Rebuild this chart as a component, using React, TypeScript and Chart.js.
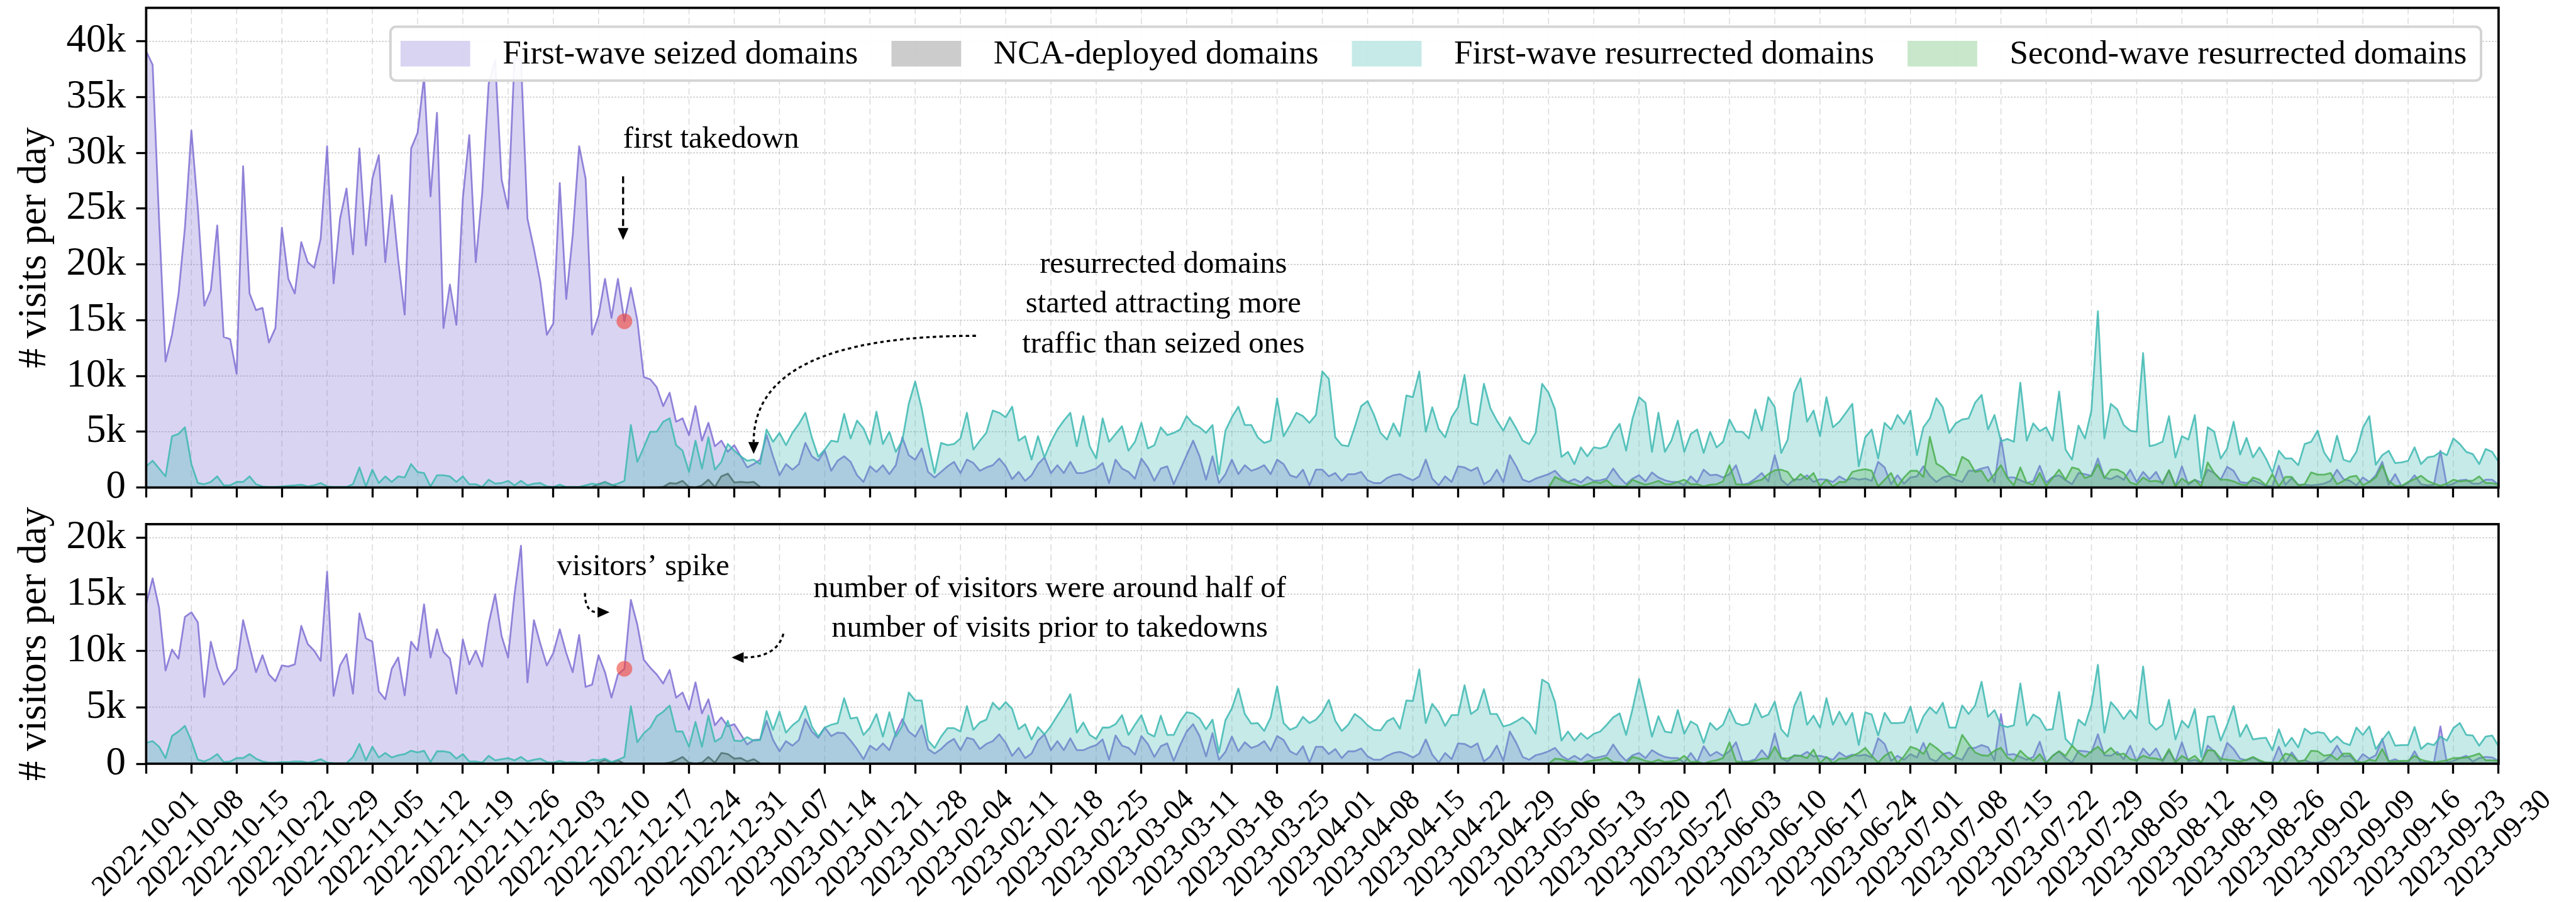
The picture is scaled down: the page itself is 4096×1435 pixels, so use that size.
import React, { useEffect, useRef } from 'react';
import { Chart, registerables } from 'chart.js';

Chart.register(...registerables);

// ---------- page / plot geometry ----------
const PAGE_W = 4096;
const PAGE_H = 1435;
const PLOT_LEFT = 232.4;
const PLOT_RIGHT = 3972.9;
const Y_AXIS_W = 200;
const X_AXIS_H = 20;
const TICK_LEN = 15.8;
const TICK_W = 3.3;
const SPINE_W = 3.7;
const LINE_W = 2.8;
const FONT = "'Liberation Serif', 'Times New Roman', Times, serif";

// ---------- x axis: one point per day from 2022-10-01 to 2023-09-30 ----------
const LAST_DAY = 364;
const TICK_EVERY = 7;
const DATE_TICKS = [
  '2022-10-01', '2022-10-08', '2022-10-15', '2022-10-22', '2022-10-29',
  '2022-11-05', '2022-11-12', '2022-11-19', '2022-11-26',
  '2022-12-03', '2022-12-10', '2022-12-17', '2022-12-24', '2022-12-31',
  '2023-01-07', '2023-01-14', '2023-01-21', '2023-01-28',
  '2023-02-04', '2023-02-11', '2023-02-18', '2023-02-25',
  '2023-03-04', '2023-03-11', '2023-03-18', '2023-03-25',
  '2023-04-01', '2023-04-08', '2023-04-15', '2023-04-22', '2023-04-29',
  '2023-05-06', '2023-05-13', '2023-05-20', '2023-05-27',
  '2023-06-03', '2023-06-10', '2023-06-17', '2023-06-24',
  '2023-07-01', '2023-07-08', '2023-07-15', '2023-07-22', '2023-07-29',
  '2023-08-05', '2023-08-12', '2023-08-19', '2023-08-26',
  '2023-09-02', '2023-09-09', '2023-09-16', '2023-09-23', '2023-09-30',
];

// ---------- visits per day (thousands), 10 days per row ----------
const SEIZED_VISITS = [
  39.1, 37.9, 24.0, 11.3, 13.7, 17.3, 23.3, 32.0, 25.0, 16.3,
  17.7, 23.5, 13.5, 13.3, 10.2, 28.8, 17.4, 15.9, 16.1, 13.0,
  14.3, 23.3, 18.7, 17.4, 22.0, 20.2, 19.7, 22.3, 30.6, 18.3,
  24.1, 26.8, 20.9, 30.4, 21.7, 27.7, 29.8, 20.2, 26.2, 20.4,
  15.5, 30.4, 31.8, 36.8, 26.1, 33.6, 14.3, 18.2, 14.6, 25.9,
  31.6, 20.2, 26.4, 36.2, 38.3, 27.6, 25.0, 38.5, 38.4, 24.1,
  21.4, 18.4, 13.7, 14.7, 27.3, 16.9, 22.6, 30.6, 27.7, 13.7,
  15.4, 18.7, 15.2, 18.7, 14.9, 17.9, 15.0, 9.9, 9.7, 9.0,
  7.3, 8.5, 5.9, 6.2, 4.7, 7.3, 4.2, 5.8, 3.7, 4.2,
  3.2, 3.8, 2.8, 1.8, 2.1, 2.5, 4.7, 2.8, 1.1, 2.1,
  1.6, 2.1, 4.0, 2.8, 2.4, 3.3, 1.5, 2.4, 2.8, 2.3,
  1.1, 0.5, 1.9, 1.4, 2.0, 1.2, 2.0, 4.5, 2.9, 2.5,
  3.5, 1.4, 0.9, 1.4, 1.9, 2.3, 1.3, 2.5, 2.2, 1.5,
  1.8, 2.0, 2.6, 1.9, 0.75, 1.4, 0.6, 1.1, 2.1, 2.7,
  1.3, 2.0, 1.3, 2.3, 1.3, 1.3, 1.5, 1.7, 2.2, 0.4,
  2.5, 1.7, 1.4, 0.8, 2.6, 1.8, 0.6, 1.7, 1.9, 0.3,
  1.6, 2.9, 4.2, 2.8, 0.7, 2.8, 0.4, 1.2, 2.5, 1.2,
  2.0, 1.5, 1.7, 2.0, 1.2, 2.5, 2.1, 1.1, 0.9, 1.6,
  0.2, 1.6, 1.6, 1.0, 1.3, 0.6, 1.2, 1.2, 1.4, 0.65,
  0.4, 0.4, 0.85, 1.1, 1.2, 0.9, 0.65, 1.0, 2.5, 0.8,
  0.2, 1.0, 0.5, 1.9, 1.8, 1.5, 1.8, 0.3, 0.65, 1.6,
  0.5, 2.9, 1.9, 0.7, 0.5, 0.8, 1.0, 1.2, 1.5, 0.85,
  0.5, 0.75, 0.45, 0.95, 0.6, 0.65, 0.8, 1.7, 0.9, 0.3,
  0.8, 1.1, 0.55, 1.35, 0.9, 0.65, 0.5, 0.5, 0.2, 1.0,
  0.45, 1.6, 1.1, 1.15, 0.9, 1.2, 2.0, 0.25, 0.4, 0.8,
  1.3, 0.55, 2.9, 0.7, 0.2, 0.75, 0.7, 1.1, 0.5, 0.75,
  0.7, 0.5, 1.0, 0.65, 0.85, 0.7, 0.8, 0.6, 2.3, 1.8,
  0.3, 1.1, 0.35, 0.9, 1.0, 1.9, 1.05, 0.5, 0.9, 1.05,
  0.7, 0.5, 1.5, 1.5, 1.7, 1.85, 0.45, 4.45, 0.9, 0.9,
  0.65, 0.4, 0.6, 1.95, 0.45, 0.95, 1.1, 0.65, 0.3, 1.3,
  1.2, 1.05, 2.6, 0.9, 0.75, 1.05, 0.7, 1.6, 0.5, 1.4,
  0.75, 1.4, 0.3, 1.55, 0.15, 1.9, 0.25, 0.7, 0.45, 1.6,
  1.3, 0.7, 1.85, 1.5, 0.5, 0.4, 0.65, 0.4, 0.15, 0.1,
  1.95, 0.25, 0.85, 0.25, 0.25, 0.2, 0.25, 0.35, 0.6, 1.6,
  0.75, 0.6, 0.2, 0.9, 0.5, 1.1, 2.3, 0.25, 1.2, 0.1,
  0.4, 1.1, 0.3, 0.2, 0.25, 3.3, 0.15, 0.35, 0.65, 0.7,
  0.35, 0.35, 0.7, 0.7, 0.25,
];

const RES1_VISITS = [
  1.9, 2.4, 1.7, 1.0, 4.6, 4.8, 5.4, 2.1, 0.4, 0.3,
  0.5, 1.0, 0.2, 0.2, 0.5, 0.5, 1.0, 0.3, 0.1, 0.05,
  0.05, 0.1, 0.15, 0.2, 0.25, 0.1, 0.2, 0.4, 0.1, 0.05,
  0.05, 0.05, 0.3, 1.8, 0.1, 1.6, 0.4, 1.0, 0.5, 1.0,
  0.9, 2.1, 1.4, 1.3, 0.1, 1.1, 1.1, 1.0, 0.5, 1.0,
  0.3, 0.3, 0.05, 0.7, 0.35, 0.4, 0.6, 0.2, 0.6, 0.2,
  0.35, 0.4, 0.1, 0.05, 0.25, 0.05, 0.05, 0.05, 0.2, 0.35,
  0.25, 0.5, 0.2, 0.35, 0.6, 5.6, 2.3, 3.6, 5.0, 5.0,
  5.9, 6.2, 3.8, 3.3, 1.4, 4.2, 1.7, 4.5, 1.6, 2.3,
  3.9, 3.3, 2.8, 2.4, 2.5, 2.1, 5.2, 4.1, 4.9, 3.8,
  4.9, 5.7, 6.7, 4.5, 2.75, 3.4, 4.2, 4.1, 6.6, 4.4,
  6.0, 5.3, 3.9, 6.8, 3.9, 5.0, 3.2, 4.2, 7.5, 9.5,
  7.1, 4.0, 1.3, 4.0, 3.8, 3.9, 4.4, 6.7, 3.4, 4.2,
  4.9, 6.9, 6.7, 6.3, 7.25, 4.2, 4.6, 2.5, 4.6, 2.7,
  4.1, 5.2, 6.0, 6.7, 3.7, 6.4, 3.7, 2.6, 6.2, 4.1,
  4.8, 5.5, 3.3, 4.1, 5.8, 3.5, 3.8, 5.4, 4.7, 4.9,
  5.2, 6.4, 5.7, 5.4, 4.9, 5.6, 1.2, 5.1, 6.3, 7.25,
  5.6, 5.6, 4.5, 4.0, 4.2, 8.0, 4.6, 5.6, 6.7, 6.4,
  5.8, 6.5, 10.4, 9.75, 4.5, 3.8, 3.7, 5.4, 7.3, 7.75,
  6.5, 4.9, 4.3, 5.75, 4.6, 8.25, 8.1, 10.4, 5.0, 7.2,
  5.25, 4.5, 6.3, 7.2, 10.1, 5.8, 5.6, 9.3, 7.1, 6.0,
  5.1, 6.3, 5.3, 4.2, 3.9, 4.9, 9.3, 8.5, 7.0, 2.75,
  3.2, 2.1, 3.6, 2.8, 3.6, 3.5, 3.7, 4.9, 5.7, 3.3,
  6.2, 8.1, 7.6, 3.2, 6.7, 3.2, 4.2, 6.0, 3.2, 4.8,
  5.2, 3.1, 5.0, 3.6, 4.1, 6.1, 5.0, 5.0, 4.4, 7.0,
  5.1, 8.1, 7.2, 3.1, 4.3, 8.5, 9.8, 5.9, 6.9, 4.6,
  8.1, 5.4, 5.9, 6.7, 7.5, 1.9, 4.5, 5.2, 2.6, 5.8,
  5.2, 6.5, 5.7, 6.9, 2.9, 5.4, 6.2, 8.0, 7.2, 4.9,
  5.75, 6.1, 6.2, 7.6, 8.3, 5.2, 6.5, 4.15, 4.35, 4.1,
  9.4, 4.2, 5.75, 5.05, 5.4, 4.2, 8.6, 3.4, 2.5, 5.55,
  4.4, 6.9, 15.8, 4.4, 7.5, 7.0, 5.6, 5.1, 5.0, 12.05,
  3.7, 3.85, 4.1, 6.4, 2.7, 4.6, 4.3, 6.5, 0.8, 5.4,
  5.0, 2.6, 3.5, 5.9, 2.95, 4.45, 2.7, 3.6, 2.6, 1.35,
  3.3, 2.6, 2.6, 2.0, 3.9, 4.1, 5.1, 3.15, 2.3, 4.65,
  2.5, 2.3, 3.2, 5.35, 6.4, 2.05, 2.9, 3.3, 2.2, 2.25,
  2.4, 3.6, 2.1, 2.7, 2.8, 3.2, 2.9, 4.4, 3.9, 3.2,
  3.0, 2.1, 3.45, 3.2, 2.3,
];

// NCA-deployed domains only carry traffic for a few weeks (from day 69)
const NCA_START = 69;
const NCA_VISITS = [
  0.05, 0.3, 0.5, 0.25, 0.05, 0, 0, 0, 0, 0,
  0, 0.05, 0.4, 0.35, 0.6, 0.05, 0, 0.2, 0.7, 0.05,
  1.0, 1.25, 0.45, 0.5, 0.45, 0.5, 0.05,
];

// second-wave resurrected domains appear from 2023-05-06 (day 217)
const RES2_START = 217;
const RES2_VISITS = [
  0, 0.95, 0.65, 0.45, 0.3, 0.1, 0.3, 0.5, 0.4, 0.65,
  0.15, 0.1, 0.1, 0.7, 0.45, 0.25, 0.4, 0.6, 0.3, 0.3,
  0.5, 0.7, 0.3, 0.3, 0.1, 0.25, 0.3, 0.55, 2.0, 0.3,
  0.25, 0.25, 0.55, 0.7, 1.2, 1.55, 1.6, 1.4, 0.6, 1.2,
  0.75, 1.3, 0.1, 0.7, 0.1, 0.5, 0.5, 1.4, 1.55, 1.65,
  1.5, 0.1, 0.7, 1.3, 0.1, 0.9, 1.5, 1.5, 0.95, 4.55,
  2.15, 1.8, 1.2, 1.1, 2.75, 2.4, 1.4, 1.5, 0.55, 1.2,
  2.0, 0.85, 0.2, 1.8, 0.4, 0.25, 1.3, 0.15, 0.85, 1.6,
  0.7, 1.8, 1.65, 0.85, 1.05, 2.1, 0.85, 1.6, 1.6, 1.3,
  0.45, 0.25, 0.9, 0.55, 0.6, 0.45, 1.55, 0.1, 0.8, 0.4,
  0.7, 0.1, 2.25, 1.3, 0.7, 0.7, 0.55, 0.3, 0.2, 0.9,
  0.7, 0.2, 1.2, 0.1, 0.95, 0.95, 0.2, 0.3, 1.35, 1.15,
  1.15, 1.3, 0.3, 0.6, 0.95, 1.05, 0.2, 0.5, 0.9, 2.0,
  0.6, 0.15, 0.15, 0.5, 0.75, 1.05, 0.6, 0.35, 0.15, 0.35,
  0.7, 0.55, 0.6, 0.6, 1.0, 0.4, 0.4, 0.25,
];

// ---------- visitors per day (thousands) ----------
const SEIZED_VISITORS = [
  14.1, 16.4, 13.8, 8.25, 10.1, 9.3, 13.0, 13.4, 12.5, 5.9,
  10.8, 8.5, 7.0, 7.7, 8.4, 12.7, 10.4, 8.1, 9.6, 7.9,
  7.3, 8.7, 8.6, 8.8, 12.2, 10.6, 10.0, 9.1, 17.0, 6.0,
  8.7, 9.7, 6.2, 13.3, 11.1, 10.8, 6.4, 5.7, 8.4, 9.4,
  6.05, 10.8, 10.0, 14.1, 9.4, 11.9, 9.9, 9.3, 6.2, 11.0,
  8.8, 10.0, 8.6, 12.4, 15.0, 11.3, 9.4, 15.0, 19.3, 7.2,
  12.7, 10.6, 8.7, 9.8, 11.9, 9.8, 8.1, 11.4, 6.8, 7.0,
  9.6, 8.1, 5.85, 7.9, 8.4, 14.5, 12.3, 9.2, 8.5, 7.9,
  7.1, 8.3, 5.85, 6.3, 4.8, 7.2, 4.45, 5.7, 3.4, 4.1,
  3.3, 3.5, 2.6, 1.7, 2.1, 2.15, 3.8, 2.1, 1.1, 2.0,
  1.6, 2.1, 3.95, 2.85, 2.3, 3.2, 2.45, 2.75, 2.7, 2.05,
  1.3, 0.4, 1.6, 1.2, 1.8, 1.2, 2.7, 3.95, 2.85, 2.4,
  3.4, 1.3, 0.9, 1.3, 1.85, 2.2, 1.2, 2.3, 2.15, 1.3,
  1.75, 2.0, 2.6, 1.85, 0.7, 1.4, 0.5, 0.9, 2.05, 2.6,
  1.2, 2.0, 1.2, 2.25, 1.2, 1.2, 1.45, 1.65, 2.15, 0.35,
  2.5, 1.6, 1.4, 0.8, 2.45, 1.75, 0.6, 1.55, 1.8, 0.25,
  1.65, 2.85, 3.5, 2.45, 0.65, 2.7, 0.35, 1.05, 2.4, 1.1,
  1.9, 1.4, 1.6, 2.0, 1.15, 2.45, 2.1, 1.1, 0.8, 1.55,
  0.1, 1.5, 1.5, 0.85, 1.3, 0.5, 1.1, 1.1, 1.35, 0.65,
  0.35, 0.35, 0.7, 0.95, 1.05, 0.85, 0.55, 0.9, 2.15, 0.8,
  0.1, 0.95, 0.4, 1.8, 1.75, 1.45, 1.8, 0.2, 0.65, 1.6,
  0.25, 2.85, 1.85, 0.6, 0.35, 0.75, 0.9, 1.1, 1.4, 0.7,
  0.35, 0.7, 0.35, 0.85, 0.5, 0.6, 0.75, 1.7, 0.85, 0.25,
  0.75, 0.95, 0.5, 1.2, 0.85, 0.6, 0.5, 0.5, 0.1, 0.95,
  0.15, 1.55, 0.7, 1.05, 0.7, 1.1, 1.9, 0.2, 0.2, 0.4,
  1.2, 0.5, 2.7, 0.5, 0.2, 0.75, 0.7, 1.05, 0.65, 0.7,
  0.55, 0.35, 1.0, 0.6, 0.8, 0.7, 0.8, 0.55, 2.25, 1.75,
  0.25, 0.7, 0.35, 0.85, 0.55, 1.85, 0.45, 0.2, 0.85, 1.0,
  0.55, 0.35, 1.4, 1.4, 1.65, 1.45, 0.3, 4.4, 0.8, 0.85,
  0.6, 0.35, 0.6, 1.95, 0.1, 0.7, 1.1, 0.5, 0.1, 1.15,
  1.1, 1.0, 2.6, 0.75, 0.7, 1.05, 0.4, 1.6, 0.2, 1.35,
  0.7, 1.35, 0.2, 1.15, 0.2, 1.9, 0.2, 0.35, 0.1, 1.6,
  1.1, 0.2, 1.85, 1.3, 0.45, 0.3, 0.55, 0.2, 0.1, 0.1,
  1.5, 0.1, 1.0, 0.2, 0.3, 0.1, 0.1, 0.25, 0.7, 1.6,
  0.65, 0.7, 0.1, 0.85, 0.45, 0.75, 2.2, 0.2, 0.4, 0.1,
  0.1, 1.1, 0.1, 0.2, 0.1, 3.3, 0.1, 0.25, 0.5, 0.7,
  0.2, 0.5, 0.6, 0.55, 0.25,
];

const RES1_VISITORS = [
  1.85, 2.0, 1.5, 0.5, 2.45, 2.85, 3.35, 2.0, 0.35, 0.2,
  0.45, 0.85, 0.15, 0.2, 0.5, 0.5, 0.85, 0.45, 0.2, 0.1,
  0.1, 0.15, 0.15, 0.2, 0.2, 0.1, 0.2, 0.4, 0.1, 0.05,
  0.05, 0.05, 0.6, 1.75, 0.3, 1.5, 0.55, 0.95, 0.55, 0.75,
  0.85, 1.15, 1.0, 1.15, 0.15, 1.1, 1.1, 1.0, 0.45, 0.85,
  0.2, 0.2, 0.1, 0.7, 0.3, 0.4, 0.5, 0.3, 0.6, 0.2,
  0.35, 0.45, 0.15, 0.1, 0.25, 0.1, 0.15, 0.1, 0.1, 0.35,
  0.3, 0.45, 0.15, 0.35, 0.6, 5.1, 1.9, 2.7, 3.2, 4.2,
  4.6, 5.15, 2.85, 2.85, 1.5, 3.7, 1.5, 4.25, 1.95, 2.3,
  3.8, 2.05, 2.0, 2.35, 2.05, 2.1, 4.65, 3.0, 4.6, 2.75,
  3.4, 3.85, 5.1, 3.3, 2.4, 3.2, 3.45, 3.6, 5.8, 4.0,
  4.1, 2.55, 3.2, 4.4, 2.4, 4.55, 2.4, 3.35, 6.3, 5.6,
  5.6, 2.05, 1.4, 2.4, 3.15, 3.15, 2.85, 5.1, 3.0, 3.65,
  3.9, 5.4, 4.8, 5.45, 4.85, 3.05, 3.5, 2.15, 3.25, 2.6,
  3.35, 4.25, 5.15, 6.15, 2.75, 3.65, 2.55, 2.2, 3.2, 3.2,
  3.5, 4.3, 2.55, 3.45, 4.3, 2.7, 2.4, 4.25, 2.55, 2.55,
  3.75, 4.55, 4.45, 4.0, 3.05, 3.9, 1.0, 3.85, 4.9, 6.65,
  4.4, 3.55, 3.6, 2.9, 4.1, 6.85, 3.6, 3.0, 3.25, 4.15,
  3.6, 3.9, 4.55, 5.65, 3.8, 2.9, 3.45, 4.4, 4.0, 3.4,
  3.0, 2.95, 3.75, 4.05, 3.1, 5.6, 5.55, 8.35, 3.6, 5.3,
  4.55, 3.35, 4.3, 4.3, 6.95, 4.4, 4.8, 6.6, 4.4, 4.4,
  3.3, 3.45, 3.75, 4.1, 3.6, 2.65, 7.45, 7.1, 5.45, 2.05,
  2.85, 2.05, 2.7, 2.2, 2.65, 2.85, 3.45, 4.1, 4.45, 2.55,
  4.85, 7.5, 5.0, 2.4, 4.2, 2.85, 2.75, 4.75, 2.65, 3.75,
  3.4, 1.85, 3.6, 3.0, 3.45, 4.85, 3.6, 3.4, 3.55, 5.3,
  4.1, 4.35, 5.5, 3.05, 2.4, 5.1, 6.35, 3.45, 4.25, 3.2,
  5.8, 3.45, 4.6, 3.45, 4.5, 1.65, 4.55, 4.35, 2.5, 4.5,
  3.6, 3.6, 3.65, 5.05, 2.75, 4.2, 5.0, 4.45, 5.4, 3.2,
  3.2, 5.15, 4.4, 5.15, 7.25, 4.15, 4.75, 3.4, 3.25, 3.4,
  7.1, 3.4, 4.35, 4.0, 3.0, 3.05, 6.35, 2.2, 1.6, 3.9,
  3.4, 5.2, 8.75, 2.75, 5.45, 4.8, 3.95, 4.75, 4.0, 8.6,
  3.6, 3.0, 3.45, 5.65, 2.15, 3.8, 3.2, 4.85, 0.6, 4.15,
  4.2, 2.05, 3.45, 5.1, 2.4, 3.45, 2.15, 2.25, 2.3, 1.2,
  3.05, 1.55, 2.3, 1.45, 3.1, 2.65, 2.8, 2.7, 1.9, 2.4,
  1.85, 1.65, 3.2, 2.55, 3.3, 1.3, 2.1, 2.85, 1.6, 1.65,
  1.65, 3.25, 1.3, 1.8, 1.65, 2.4, 2.05, 3.15, 3.6, 2.55,
  2.5, 1.6, 2.4, 2.5, 1.55,
];

const NCA_VISITORS = [
  0, 0.1, 0.35, 0.1, 0.3, 0, 0, 0, 0, 0,
  0, 0, 0.1, 0.3, 0.6, 0.1, 0, 0.1, 0.6, 0.1,
  0.95, 0.85, 0.45, 0.5, 0.2, 0.4, 0.05,
];

const RES2_VISITORS = [
  0, 0.45, 0.4, 0.2, 0.2, 0, 0.2, 0.3, 0.35, 0.55,
  0.15, 0.15, 0, 0.6, 0.45, 0.25, 0.15, 0.35, 0.15, 0.2,
  0.3, 0.7, 0.15, 0.2, 0, 0.2, 0.3, 0.5, 1.9, 0.2,
  0.15, 0.15, 0.25, 0.45, 0.45, 1.5, 0.5, 0.45, 0.7, 0.7,
  0.5, 1.25, 0.05, 0.6, 0.05, 0.45, 0.45, 0.7, 0.95, 1.4,
  0.7, 0.1, 0.7, 1.05, 0.05, 0.65, 1.5, 1.3, 0.85, 1.8,
  1.4, 0.9, 0.4, 0.8, 2.55, 1.75, 1.0, 0.75, 0.7, 1.15,
  1.4, 0.55, 0.25, 1.15, 0.6, 0.25, 0.85, 0.05, 0.7, 1.1,
  0.7, 1.6, 1.0, 0.6, 1.1, 1.5, 0.9, 1.4, 0.8, 0.9,
  0.4, 0.3, 0.7, 0.5, 0.45, 0.3, 1.3, 0.1, 0.7, 0.35,
  0.7, 0.1, 1.2, 1.15, 0.45, 0.35, 0.3, 0.2, 0.35, 0.6,
  0.3, 0.1, 0.1, 0.1, 0.9, 0.75, 0.2, 0.3, 1.15, 1.1,
  0.7, 0.8, 0.35, 0.9, 0.9, 0.2, 0.1, 0.35, 0.25, 1.3,
  0.2, 0.2, 0.25, 0.25, 0.7, 0.35, 0.2, 0.1, 0.2, 0.3,
  0.5, 0.5, 0.55, 0.7, 0.9, 0.3, 0.3, 0.25,
];

// first takedown (2022-12-14)
const TAKEDOWN_DAY = 74;

// ---------- series styling ----------
const SERIES = {
  seized: { label: 'First-wave seized domains', rgb: '128,112,212' },
  nca: { label: 'NCA-deployed domains', rgb: '85,85,85' },
  res1: { label: 'First-wave resurrected domains', rgb: '62,185,178' },
  res2: { label: 'Second-wave resurrected domains', rgb: '76,175,80' },
};

type Note = { lines: string[]; day: number; value: number; align: CanvasTextAlign };
type Arrow = { from: [number, number]; via?: [number, number]; to: [number, number]; dash: number[] };

type Panel = {
  top: number;
  bottom: number;
  yMax: number;
  yTicks: number[];
  title: string;
  seized: number[];
  nca: number[];
  res1: number[];
  res2: number[];
  notes: Note[];
  arrows: Arrow[];
  legend: boolean;
  dateLabels: boolean;
};

const TOP_PANEL: Panel = {
  top: 12.5,
  bottom: 775.6,
  yMax: 43.0,
  yTicks: [0, 5, 10, 15, 20, 25, 30, 35, 40],
  title: '# visits per day',
  seized: SEIZED_VISITS,
  nca: NCA_VISITS,
  res1: RES1_VISITS,
  res2: RES2_VISITS,
  notes: [
    { lines: ['first takedown'], day: 73.8, value: 31.2, align: 'left' },
    {
      lines: ['resurrected domains', 'started attracting more', 'traffic than seized ones'],
      day: 157.4,
      value: 16.4,
      align: 'center',
    },
  ],
  arrows: [
    { from: [73.8, 27.9], to: [73.8, 22.2], dash: [11, 6] },
    { from: [128.4, 13.6], via: [94.0, 13.6], to: [94.0, 3.0], dash: [5.5, 5] },
  ],
  legend: true,
  dateLabels: false,
};

const BOTTOM_PANEL: Panel = {
  top: 833.9,
  bottom: 1215.0,
  yMax: 21.2,
  yTicks: [0, 5, 10, 15, 20],
  title: '# visitors per day',
  seized: SEIZED_VISITORS,
  nca: NCA_VISITORS,
  res1: RES1_VISITORS,
  res2: RES2_VISITORS,
  notes: [
    { lines: ['visitors\u2019 spike'], day: 76.9, value: 17.4, align: 'center' },
    {
      lines: ['number of visitors were around half of', 'number of visits prior to takedowns'],
      day: 139.8,
      value: 13.7,
      align: 'center',
    },
  ],
  arrows: [
    { from: [67.9, 15.1], via: [67.9, 13.4], to: [71.7, 13.4], dash: [5.5, 5] },
    { from: [98.6, 11.5], via: [97.6, 9.4], to: [90.6, 9.4], dash: [5.5, 5] },
  ],
  legend: false,
  dateLabels: true,
};

function areaDataset(key: keyof typeof SERIES, values: number[], start: number, order: number) {
  const s = SERIES[key];
  return {
    type: 'line' as const,
    label: s.label,
    data: values.map((v, i) => ({ x: start + i, y: v })),
    borderColor: `rgba(${s.rgb},0.85)`,
    backgroundColor: `rgba(${s.rgb},0.3)`,
    borderWidth: LINE_W,
    borderJoinStyle: 'round' as const,
    fill: 'origin',
    pointRadius: 0,
    tension: 0,
    order,
  };
}

function drawArrow(ctx: CanvasRenderingContext2D, xs: any, ys: any, a: Arrow) {
  const px = (p: [number, number]) => [xs.getPixelForValue(p[0]), ys.getPixelForValue(p[1])];
  const p0 = px(a.from);
  const p2 = px(a.to);
  const c = a.via ? px(a.via) : null;
  const ref = c || p0;
  const dx = p2[0] - ref[0];
  const dy = p2[1] - ref[1];
  const len = Math.hypot(dx, dy) || 1;
  const ux = dx / len;
  const uy = dy / len;
  const headL = 19;
  const headW = 17;
  const bx = p2[0] - ux * headL;
  const by = p2[1] - uy * headL;
  ctx.save();
  ctx.strokeStyle = '#000';
  ctx.fillStyle = '#000';
  ctx.lineWidth = 3.3;
  ctx.setLineDash(a.dash);
  ctx.beginPath();
  ctx.moveTo(p0[0], p0[1]);
  if (c) ctx.quadraticCurveTo(c[0], c[1], bx, by);
  else ctx.lineTo(bx, by);
  ctx.stroke();
  ctx.setLineDash([]);
  ctx.beginPath();
  ctx.moveTo(p2[0], p2[1]);
  ctx.lineTo(bx - (uy * headW) / 2, by + (ux * headW) / 2);
  ctx.lineTo(bx + (uy * headW) / 2, by - (ux * headW) / 2);
  ctx.closePath();
  ctx.fill();
  ctx.restore();
}

function drawLegend(ctx: CanvasRenderingContext2D, datasets: any[]) {
  const items = datasets.filter((d) => d.label);
  const fontSize = 53;
  const swW = 110.8;
  const swH = 40.8;
  const swGap = 51.6;
  const colGap = 53;
  const padL = 16;
  const padR = 22.5;
  const boxRight = 3945;
  const boxTop = 42.5;
  const boxBottom = 128.3;
  ctx.save();
  ctx.font = `${fontSize}px ${FONT}`;
  const widths = items.map((d) => ctx.measureText(d.label).width);
  const inner = widths.reduce((s, w) => s + swW + swGap + w, 0) + colGap * (items.length - 1);
  const boxLeft = boxRight - padR - inner - padL;
  const midY = (boxTop + boxBottom) / 2;
  ctx.beginPath();
  ctx.roundRect(boxLeft, boxTop, boxRight - boxLeft, boxBottom - boxTop, 9);
  ctx.fillStyle = 'rgba(255,255,255,0.92)';
  ctx.fill();
  ctx.lineWidth = 4;
  ctx.strokeStyle = '#d4d4d4';
  ctx.stroke();
  let x = boxLeft + padL;
  items.forEach((d, i) => {
    ctx.fillStyle = d.backgroundColor;
    ctx.fillRect(x, midY - swH / 2, swW, swH);
    x += swW + swGap;
    ctx.fillStyle = '#000';
    ctx.textAlign = 'left';
    ctx.textBaseline = 'middle';
    ctx.fillText(d.label, x, midY + 2);
    x += widths[i] + colGap;
  });
  ctx.restore();
}

function buildConfig(p: Panel): any {
  const zeroPad = (s: any) => {
    s.paddingLeft = 0;
    s.paddingRight = 0;
    s.paddingTop = 0;
    s.paddingBottom = 0;
  };
  const decor = {
    id: 'panelDecor',
    beforeDatasetsDraw(chart: any) {
      const { ctx, chartArea: a, scales } = chart;
      const xs = scales.x;
      const ys = scales.y;
      ctx.save();
      ctx.beginPath();
      ctx.rect(a.left, a.top, a.right - a.left, a.bottom - a.top);
      ctx.clip();
      ctx.lineWidth = 1.5;
      ctx.strokeStyle = 'rgba(150,150,150,0.35)';
      ctx.setLineDash([10, 6]);
      xs.ticks.forEach((t: any) => {
        const x = xs.getPixelForValue(t.value);
        ctx.beginPath();
        ctx.moveTo(x, a.top);
        ctx.lineTo(x, a.bottom);
        ctx.stroke();
      });
      ctx.strokeStyle = 'rgba(140,140,140,0.55)';
      ctx.setLineDash([2.5, 2.5]);
      ys.ticks.forEach((t: any) => {
        const y = ys.getPixelForValue(t.value);
        ctx.beginPath();
        ctx.moveTo(a.left, y);
        ctx.lineTo(a.right, y);
        ctx.stroke();
      });
      ctx.restore();
    },
    afterDraw(chart: any) {
      const { ctx, chartArea: a, scales } = chart;
      const xs = scales.x;
      const ys = scales.y;

      // annotations
      ctx.save();
      ctx.fillStyle = '#000';
      ctx.font = `48.7px ${FONT}`;
      ctx.textBaseline = 'middle';
      const lineH = 63.3;
      p.notes.forEach((n) => {
        const x = xs.getPixelForValue(n.day);
        const yc = ys.getPixelForValue(n.value);
        ctx.textAlign = n.align;
        n.lines.forEach((line, i) => {
          const y = yc + (i - (n.lines.length - 1) / 2) * lineH;
          ctx.fillText(line, x, y);
        });
      });
      ctx.restore();
      p.arrows.forEach((ar) => drawArrow(ctx, xs, ys, ar));

      // frame
      ctx.save();
      ctx.lineWidth = SPINE_W;
      ctx.strokeStyle = '#000';
      ctx.strokeRect(a.left, a.top, a.right - a.left, a.bottom - a.top);
      ctx.restore();

      // y axis title
      ctx.save();
      ctx.translate(55, (a.top + a.bottom) / 2);
      ctx.rotate(-Math.PI / 2);
      ctx.font = `63px ${FONT}`;
      ctx.fillStyle = '#000';
      ctx.textAlign = 'center';
      ctx.textBaseline = 'middle';
      ctx.fillText(p.title, 0, 0);
      ctx.restore();

      // rotated date labels
      if (p.dateLabels) {
        ctx.save();
        const fs = 46.5;
        ctx.font = `${fs}px ${FONT}`;
        ctx.fillStyle = '#000';
        ctx.textAlign = 'center';
        ctx.textBaseline = 'middle';
        xs.ticks.forEach((t: any, i: number) => {
          const label = DATE_TICKS[i];
          if (!label) return;
          const w = ctx.measureText(label).width;
          const half = ((w + fs * 0.66) * Math.SQRT1_2) / 2;
          const cx = xs.getPixelForValue(t.value);
          const cy = a.bottom + TICK_LEN + 24 + half;
          ctx.save();
          ctx.translate(cx, cy);
          ctx.rotate(-Math.PI / 4);
          ctx.fillText(label, 0, 0);
          ctx.restore();
        });
        ctx.restore();
      }

      if (p.legend) drawLegend(ctx, chart.data.datasets.filter((d: any) => d.type === 'line'));
    },
  };

  return {
    type: 'line',
    data: {
      datasets: [
        areaDataset('seized', p.seized, 0, 4),
        areaDataset('nca', p.nca, NCA_START, 3),
        areaDataset('res1', p.res1, 0, 2),
        areaDataset('res2', p.res2, RES2_START, 1),
        {
          type: 'scatter',
          label: '',
          data: [{ x: TAKEDOWN_DAY, y: p.seized[TAKEDOWN_DAY] }],
          pointRadius: 12.5,
          pointHoverRadius: 12.5,
          backgroundColor: 'rgba(240,70,60,0.62)',
          borderWidth: 0,
          order: 0,
        },
      ],
    },
    options: {
      responsive: false,
      devicePixelRatio: 1,
      animation: false,
      events: [],
      layout: {
        autoPadding: false,
        padding: {
          left: PLOT_LEFT - Y_AXIS_W,
          right: PAGE_W - PLOT_RIGHT,
          top: p.top,
          bottom: PAGE_H - p.bottom - X_AXIS_H,
        },
      },
      plugins: { legend: { display: false }, tooltip: { enabled: false } },
      scales: {
        x: {
          type: 'linear',
          min: 0,
          max: LAST_DAY,
          afterBuildTicks: (s: any) => {
            s.ticks = DATE_TICKS.map((_, i) => ({ value: i * TICK_EVERY }));
          },
          ticks: { display: false, autoSkip: false },
          grid: {
            drawOnChartArea: false,
            drawTicks: true,
            tickLength: TICK_LEN,
            tickWidth: TICK_W,
            tickColor: '#000',
          },
          border: { display: false },
          afterFit: (s: any) => {
            s.height = X_AXIS_H;
            zeroPad(s);
          },
        },
        y: {
          type: 'linear',
          min: 0,
          max: p.yMax,
          afterBuildTicks: (s: any) => {
            s.ticks = p.yTicks.map((v) => ({ value: v }));
          },
          ticks: {
            autoSkip: false,
            padding: 16.6,
            color: '#000',
            font: { family: FONT, size: 63 },
            callback: (v: number) => (v === 0 ? '0' : `${v}k`),
          },
          grid: {
            drawOnChartArea: false,
            drawTicks: true,
            tickLength: TICK_LEN,
            tickWidth: TICK_W,
            tickColor: '#000',
          },
          border: { display: false },
          afterFit: (s: any) => {
            s.width = Y_AXIS_W;
            zeroPad(s);
          },
        },
      },
    },
    plugins: [decor],
  };
}

export default function App() {
  const topRef = useRef<HTMLCanvasElement>(null);
  const bottomRef = useRef<HTMLCanvasElement>(null);

  useEffect(() => {
    const charts = [
      new Chart(topRef.current as HTMLCanvasElement, buildConfig(TOP_PANEL)),
      new Chart(bottomRef.current as HTMLCanvasElement, buildConfig(BOTTOM_PANEL)),
    ];
    return () => charts.forEach((c) => c.destroy());
  }, []);

  const layer: React.CSSProperties = { position: 'absolute', left: 0, top: 0, pointerEvents: 'none' };
  return (
    <div style={{ position: 'fixed', left: 0, top: 0, width: PAGE_W, height: PAGE_H, background: '#fff', overflow: 'hidden' }}>
      <canvas ref={topRef} width={PAGE_W} height={PAGE_H} style={layer} />
      <canvas ref={bottomRef} width={PAGE_W} height={PAGE_H} style={layer} />
    </div>
  );
}
